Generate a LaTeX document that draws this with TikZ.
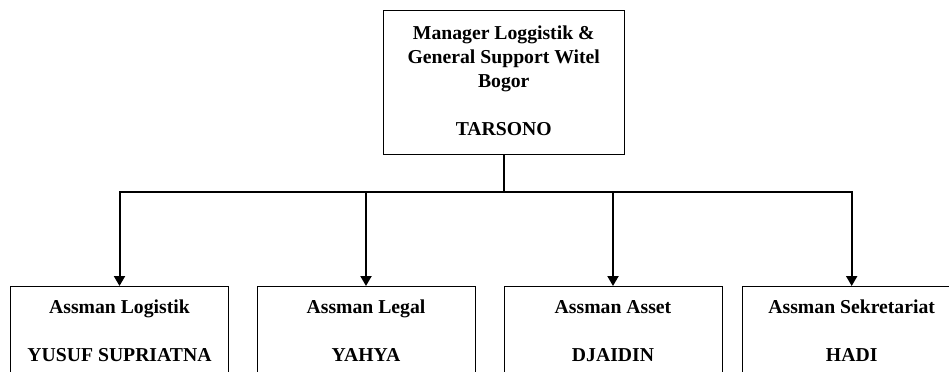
\documentclass[tikz,border=0pt]{standalone}
\usepackage{fontspec}
\setmainfont{Liberation Serif}
\usetikzlibrary{arrows.meta, positioning}
\tikzset{
x=0.5pt, y=-0.5pt, % one unit is one pixel of the reference
every node/.style={font=\fontsize{9.85}{12}\selectfont\bfseries},
headbox/.style={draw, line width=0.5pt, align=center, anchor=north,
  minimum width=120.25pt, inner ysep=7.25pt, text height=55.25pt, text depth=2.5pt},
staffbox/.style={draw, line width=0.5pt, align=center, anchor=north,
  minimum width=109pt, inner ysep=6pt, text height=31.5pt, text depth=10pt},
link/.style={line width=1pt},
arrowlink/.style={link, -{Triangle[length=5pt,width=5.5pt]}},
}
\begin{document}
\begin{tikzpicture}
\useasboundingbox (0,0) rectangle (949,371);
\clip (0,0) rectangle (949,371);

% top
\node[headbox] (mgr) at (503.75,9.5) {Manager Loggistik \&\\General Support Witel\\Bogor\\[12pt]TARSONO};

% assistants
\node[staffbox] (logistik) at (119.5,286) {Assman Logistik\\[12pt]YUSUF SUPRIATNA};
\node[staffbox] (legal) at (366,286) {Assman Legal\\[12pt]YAHYA};
\node[staffbox] (asset) at (613,286) {Assman Asset\\[12pt]DJAIDIN};
\node[staffbox] (sekretariat) at (851.7,286) {Assman Sekretariat\\[12pt]HADI};

\coordinate (bus) at (503.75,191.7);

\draw[link] (mgr) -- (bus);
\draw[arrowlink] (bus) -| (logistik);
\draw[arrowlink] (bus) -| (legal);
\draw[arrowlink] (bus) -| (asset);
\draw[arrowlink] (bus) -| (sekretariat);
\end{tikzpicture}
\end{document}
